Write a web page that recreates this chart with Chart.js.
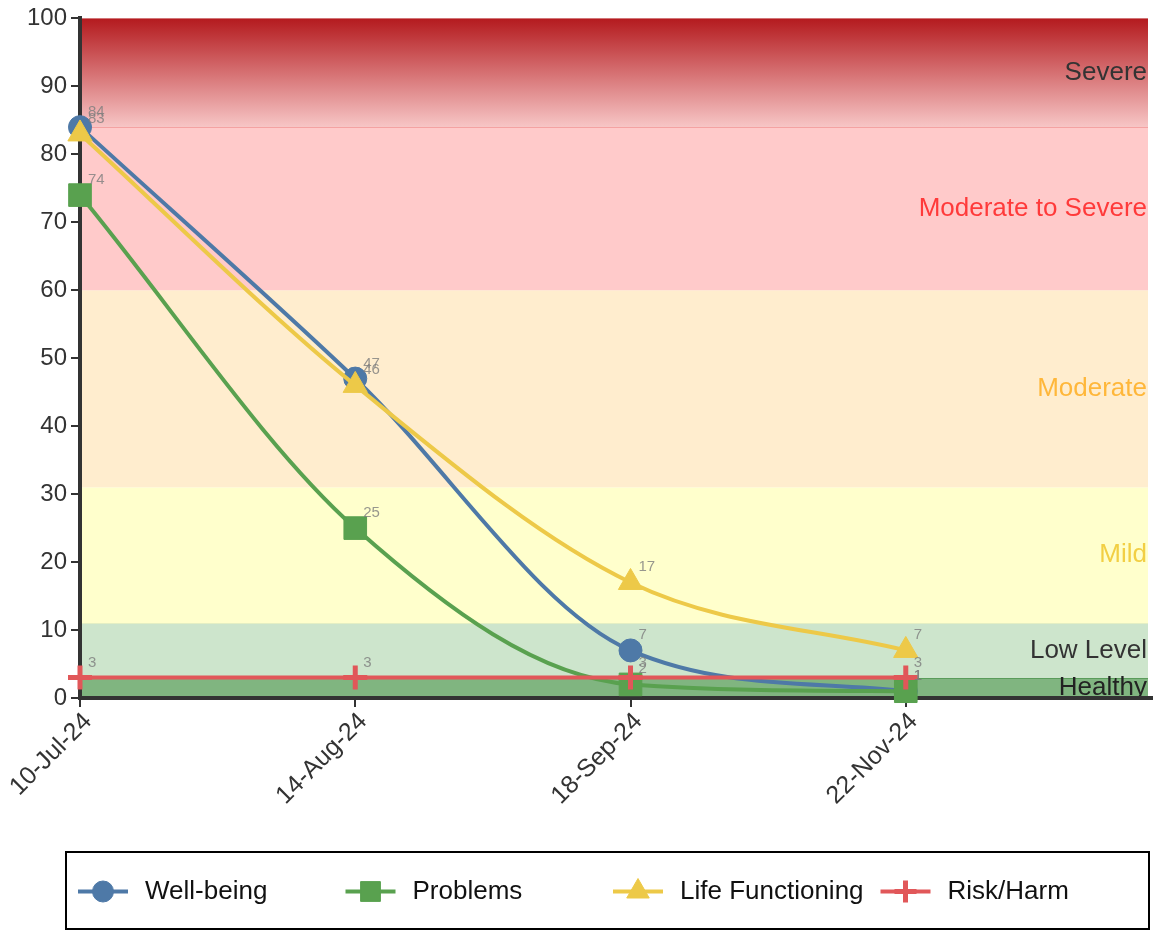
<!DOCTYPE html>
<html>
<head>
<meta charset="utf-8">
<script src="https://cdn.jsdelivr.net/npm/chart.js@4.4.1/dist/chart.umd.min.js"></script>
<style>
  html, body { margin: 0; padding: 0; background: #fff; }
  #wrap { width: 1153px; height: 931px; }
</style>
</head>
<body>
<div id="wrap"><canvas id="chart" width="1153" height="931"></canvas></div>
<script>
const dates = ['10-Jul-24', '14-Aug-24', '18-Sep-24', '22-Nov-24'];
const wellBeing = [84, 47, 7, 1];
const problems = [74, 25, 2, 1];
const lifeFunctioning = [83, 46, 17, 7];
const riskHarm = [3, 3, 3, 3];

const bandNames = ['Healthy', 'Low Level', 'Mild', 'Moderate', 'Moderate to Severe', 'Severe'];
const bandFrom = [0, 3, 11, 31, 60, 84];
const bandTo = [3, 11, 31, 60, 84, 100];
const bandFill = ['#80b580', '#cde5cc', '#ffffcc', '#ffedce', '#ffcaca', null];
const bandText = ['#222', '#333', '#f2cf44', '#ffb73a', '#ff3a3a', '#333'];

const FONT = "'Liberation Sans', Arial, sans-serif";

const toPoints = arr => arr.map((v, i) => ({ x: i, y: v }));

const series = [
  { label: 'Well-being', data: wellBeing, color: '#4e79a7', style: 'circle', r: 11.5, bw: 1, order: 4 },
  { label: 'Problems', data: problems, color: '#59a14f', style: 'rect', r: 16, bw: 1, order: 3 },
  { label: 'Life Functioning', data: lifeFunctioning, color: '#edc948', style: 'triangle', r: 14, bw: 1, order: 2 },
  { label: 'Risk/Harm', data: riskHarm, color: '#e15759', style: 'cross', r: 12, bw: 5, order: 1 }
];

const bands = {
  id: 'bands',
  beforeDraw(chart) {
    const { ctx, chartArea: a, scales: { y } } = chart;
    ctx.save();
    bandNames.forEach((name, i) => {
      const top = y.getPixelForValue(bandTo[i]);
      const bot = y.getPixelForValue(bandFrom[i]);
      if (bandFill[i]) {
        ctx.fillStyle = bandFill[i];
      } else {
        const g = ctx.createLinearGradient(0, top, 0, bot);
        g.addColorStop(0, '#b41a1e');
        g.addColorStop(1, '#f7c6c6');
        ctx.fillStyle = g;
      }
      ctx.fillRect(a.left, top, a.right - a.left, bot - top);
    });
    // thin band borders
    const edge = (v, c) => {
      const p = Math.round(y.getPixelForValue(v)) + 0.5;
      ctx.strokeStyle = c;
      ctx.lineWidth = 1;
      ctx.beginPath();
      ctx.moveTo(a.left, p);
      ctx.lineTo(a.right, p);
      ctx.stroke();
    };
    edge(84, '#f4a2a2');
    edge(11, '#e4efc4');
    edge(3, '#5a9c5a');
    ctx.font = '26px ' + FONT;
    ctx.textAlign = 'right';
    ctx.textBaseline = 'middle';
    bandNames.forEach((name, i) => {
      ctx.fillStyle = bandText[i];
      ctx.fillText(name, a.right - 1, y.getPixelForValue((bandFrom[i] + bandTo[i]) / 2));
    });
    ctx.restore();
  }
};

const valueLabels = {
  id: 'valueLabels',
  afterDatasetsDraw(chart) {
    const { ctx } = chart;
    ctx.save();
    ctx.font = '15px ' + FONT;
    ctx.fillStyle = 'rgba(125,125,125,0.8)';
    ctx.textAlign = 'left';
    ctx.textBaseline = 'alphabetic';
    chart.data.datasets.forEach((ds, di) => {
      chart.getDatasetMeta(di).data.forEach((el, i) => {
        ctx.fillText(String(ds.data[i].y), el.x + 8, el.y - 11);
      });
    });
    ctx.restore();
  }
};

const boxLegend = {
  id: 'boxLegend',
  afterDraw(chart) {
    const { ctx, chartArea: a, width } = chart;
    ctx.save();
    // axis line runs to the canvas edge
    ctx.strokeStyle = '#333';
    ctx.lineWidth = 4;
    ctx.beginPath();
    ctx.moveTo(a.right - 2, a.bottom);
    ctx.lineTo(width, a.bottom);
    ctx.stroke();

    const bx = 66, by = 852, bw = 1083, bh = 77;
    ctx.strokeStyle = '#000';
    ctx.lineWidth = 2;
    ctx.strokeRect(bx, by, bw, bh);
    const cy = by + bh / 2 + 1;
    ctx.font = '26px ' + FONT;
    ctx.textAlign = 'left';
    ctx.textBaseline = 'middle';
    series.forEach((s, i) => {
      const cx = bx + 37 + i * 267.5;
      ctx.strokeStyle = s.color;
      ctx.lineWidth = 4;
      ctx.beginPath();
      ctx.moveTo(cx - 25, cy);
      ctx.lineTo(cx + 25, cy);
      ctx.stroke();
      ctx.fillStyle = s.color;
      ctx.strokeStyle = s.color;
      ctx.lineWidth = s.bw;
      Chart.helpers.drawPoint(ctx, { pointStyle: s.style, radius: s.style === 'rect' ? 14 : s.r - 1, borderWidth: s.bw, rotation: 0 }, cx, cy);
      ctx.fillStyle = '#111';
      ctx.fillText(s.label, cx + 42, cy);
    });
    ctx.restore();
  }
};

new Chart(document.getElementById('chart'), {
  type: 'line',
  data: {
    datasets: series.map(s => ({
      label: s.label,
      data: toPoints(s.data),
      borderColor: s.color,
      backgroundColor: s.color,
      borderWidth: 4,
      pointStyle: s.style,
      pointRadius: s.r,
      pointHoverRadius: s.r,
      pointBorderColor: s.color,
      pointBackgroundColor: s.color,
      pointBorderWidth: s.bw,
      pointHoverBorderWidth: s.bw,
      cubicInterpolationMode: 'monotone',
      order: s.order,
      clip: false
    }))
  },
  options: {
    responsive: false,
    animation: false,
    devicePixelRatio: 1,
    events: [],
    layout: { autoPadding: false, padding: { top: 17, right: 5, left: 0, bottom: 0 } },
    plugins: {
      legend: { display: false },
      tooltip: { enabled: false }
    },
    scales: {
      x: {
        type: 'linear',
        min: 0,
        max: 3.88,
        afterBuildTicks: s => { s.ticks = dates.map((d, i) => ({ value: i })); },
        afterFit: s => { s.height = 233; s.paddingRight = 0; s.paddingLeft = 0; },
        ticks: {
          callback: v => dates[v],
          autoSkip: false,
          maxRotation: 45,
          minRotation: 45,
          color: '#333',
          font: { size: 25, family: FONT },
          labelOffset: 8,
          padding: 0
        },
        grid: { drawOnChartArea: false, drawTicks: true, tickLength: 9, color: '#333', lineWidth: 2 },
        border: { color: '#333', width: 4 }
      },
      y: {
        min: 0,
        max: 100,
        afterFit: s => { s.width = 80; },
        ticks: {
          stepSize: 10,
          color: '#333',
          font: { size: 24, family: FONT },
          padding: 4
        },
        grid: { drawOnChartArea: false, drawTicks: true, tickLength: 9, color: '#333', lineWidth: 2 },
        border: { color: '#333', width: 4 }
      }
    }
  },
  plugins: [bands, valueLabels, boxLegend]
});
</script>
</body>
</html>
